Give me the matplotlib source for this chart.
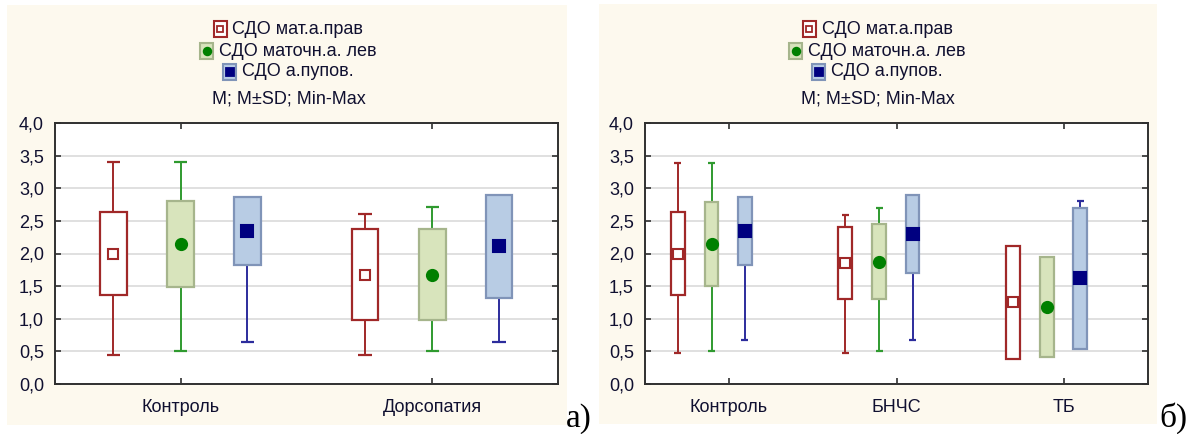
import matplotlib.pyplot as plt
from matplotlib.patches import Rectangle
from matplotlib.lines import Line2D

plt.rcParams['font.family'] = ['Liberation Sans', 'DejaVu Sans']

W, H = 1202, 434

SERIES = ["СДО мат.а.прав", "СДО маточн.а. лев", "СДО а.пупов."]

# panel a
groups_a = ["Контроль", "Дорсопатия"]
mean_a_prav = [2.00, 1.675]
sd_a_prav = [0.635, 0.695]
min_a_prav = [0.45, 0.45]
max_a_prav = [3.40, 2.60]
mean_a_lev = [2.14, 1.675]
sd_a_lev = [0.66, 0.695]
min_a_lev = [0.50, 0.50]
max_a_lev = [3.40, 2.71]
mean_a_pup = [2.34, 2.11]
sd_a_pup = [0.52, 0.79]
min_a_pup = [0.65, 0.65]
max_a_pup = [2.86, 2.90]

# panel b
groups_b = ["Контроль", "БНЧС", "ТБ"]
mean_b_prav = [2.00, 1.855, 1.25]
sd_b_prav = [0.63, 0.555, 0.87]
min_b_prav = [0.47, 0.47, 0.38]
max_b_prav = [3.39, 2.59, 2.12]
mean_b_lev = [2.145, 1.875, 1.185]
sd_b_lev = [0.645, 0.575, 0.765]
min_b_lev = [0.50, 0.50, 0.42]
max_b_lev = [3.39, 2.70, 1.95]
mean_b_pup = [2.345, 2.30, 1.62]
sd_b_pup = [0.515, 0.60, 1.08]
min_b_pup = [0.68, 0.68, 0.54]
max_b_pup = [2.86, 2.90, 2.80]

STYLE = [
    dict(face="white", edge="#a02828", line="#a02828", marker="s", mface="white", medge="#a02828", ms=7.5),
    dict(face="#d8e4bc", edge="#a6b58c", line="#2f9a2f", marker="o", mface="#008000", medge="#008000", ms=8),
    dict(face="#b8cce4", edge="#8094b8", line="#2c2c9c", marker="s", mface="#000080", medge="#000080", ms=8.5),
]

CREAM = "#fdf9ee"
TXT = "#101030"


def fx(px):
    return px / W


def fy(py):
    return 1 - py / H


def draw_series(ax, x, mean, sd, vmin, vmax, st, width):
    for xi, m, s, lo, hi in zip(x, mean, sd, vmin, vmax):
        b0, b1 = m - s, m + s
        ax.bar(xi, b1 - b0, bottom=b0, width=width, color=st["face"],
               edgecolor=st["edge"], linewidth=1.6, zorder=3)
        if hi > b1 + 1e-6:
            ax.vlines(xi, b1, hi, color=st["line"], lw=1.4, zorder=2)
            ax.hlines(hi, xi - width / 4, xi + width / 4, color=st["line"], lw=1.6, zorder=2)
        if lo < b0 - 1e-6:
            ax.vlines(xi, lo, b0, color=st["line"], lw=1.4, zorder=2)
            ax.hlines(lo, xi - width / 4, xi + width / 4, color=st["line"], lw=1.6, zorder=2)
        ax.plot(xi, m, st["marker"], ms=st["ms"], mfc=st["mface"], mec=st["medge"],
                mew=1.5, zorder=4)


def setup_axes(ax, groups):
    ax.set_ylim(0, 4)
    ax.set_xlim(0.5, len(groups) + 0.5)
    yt = [i * 0.5 for i in range(9)]
    ax.set_yticks(yt)
    ax.set_yticklabels([f"{v:.1f}".replace(".", ",") for v in yt])
    ax.set_xticks(range(1, len(groups) + 1))
    ax.set_xticklabels(groups)
    ax.tick_params(axis="y", direction="in", length=4, width=1.2, pad=8,
                   labelsize=13, labelcolor=TXT, right=True, color="#303030")
    ax.tick_params(axis="x", direction="in", length=4, width=1.2, pad=11,
                   labelsize=13, labelcolor=TXT, top=True, color="#303030")
    ax.grid(axis="y", color="#e0e0e0", lw=1.4, zorder=0)
    ax.set_axisbelow(True)
    for sp in ax.spines.values():
        sp.set_linewidth(1.4)
        sp.set_color("#303030")


def draw_legend(fig, cx, rows_y):
    renderer = fig.canvas.get_renderer()
    for name, st, y in zip(SERIES, STYLE, rows_y):
        t = fig.text(fx(cx + 9), fy(y), name, ha="center", va="center",
                     fontsize=13, color=TXT)
        bb = t.get_window_extent(renderer)
        left = bb.x0 - 6 - 13
        fig.add_artist(Rectangle((fx(left), fy(y + 8)), fx(13), 16 / H,
                                 transform=fig.transFigure, facecolor=st["face"],
                                 edgecolor=st["edge"], lw=1.5))
        fig.add_artist(Line2D([fx(left + 6.5)], [fy(y)], transform=fig.transFigure,
                              marker=st["marker"], ms=st["ms"] - 2.5, mfc=st["mface"],
                              mec=st["medge"], mew=1.3, ls="none"))
    fig.text(fx(cx), fy(rows_y[-1] + 27), "M; M±SD; Min-Max", ha="center",
             va="center", fontsize=13, color=TXT)


fig = plt.figure(figsize=(W / 100, H / 100), dpi=100)
fig.patch.set_facecolor("white")

# cream panels behind each chart
fig.add_artist(Rectangle((fx(7), fy(425)), fx(560), 420 / H, transform=fig.transFigure,
                         facecolor=CREAM, edgecolor="none", zorder=-10))
fig.add_artist(Rectangle((fx(599), fy(424)), fx(558), 420 / H, transform=fig.transFigure,
                         facecolor=CREAM, edgecolor="none", zorder=-10))

ax_a = fig.add_axes([fx(55), fy(384), fx(503), 261 / H])
ax_b = fig.add_axes([fx(645), fy(384), fx(503), 261 / H])

xa = [1, 2]
offs_a = [-0.268, 0.0, 0.265]
for off, st, mean, sd, lo, hi in zip(
        offs_a, STYLE,
        [mean_a_prav, mean_a_lev, mean_a_pup],
        [sd_a_prav, sd_a_lev, sd_a_pup],
        [min_a_prav, min_a_lev, min_a_pup],
        [max_a_prav, max_a_lev, max_a_pup]):
    draw_series(ax_a, [x + off for x in xa], mean, sd, lo, hi, st, 0.106)
setup_axes(ax_a, groups_a)

xb = [1, 2, 3]
offs_b = [-0.305, -0.103, 0.096]
for off, st, mean, sd, lo, hi in zip(
        offs_b, STYLE,
        [mean_b_prav, mean_b_lev, mean_b_pup],
        [sd_b_prav, sd_b_lev, sd_b_pup],
        [min_b_prav, min_b_lev, min_b_pup],
        [max_b_prav, max_b_lev, max_b_pup]):
    draw_series(ax_b, [x + off for x in xb], mean, sd, lo, hi, st, 0.082)
setup_axes(ax_b, groups_b)

draw_legend(fig, 289, [29, 51, 72])
draw_legend(fig, 878, [29, 51, 72])

fig.text(fx(566), fy(427), "а)", fontsize=24, family=["Liberation Serif", "DejaVu Serif"],
         ha="left", va="baseline", color="black")
fig.text(fx(1159), fy(427), "б)", fontsize=24, family=["Liberation Serif", "DejaVu Serif"],
         ha="left", va="baseline", color="black")

fig.savefig("out.png", dpi=100, facecolor="white")
